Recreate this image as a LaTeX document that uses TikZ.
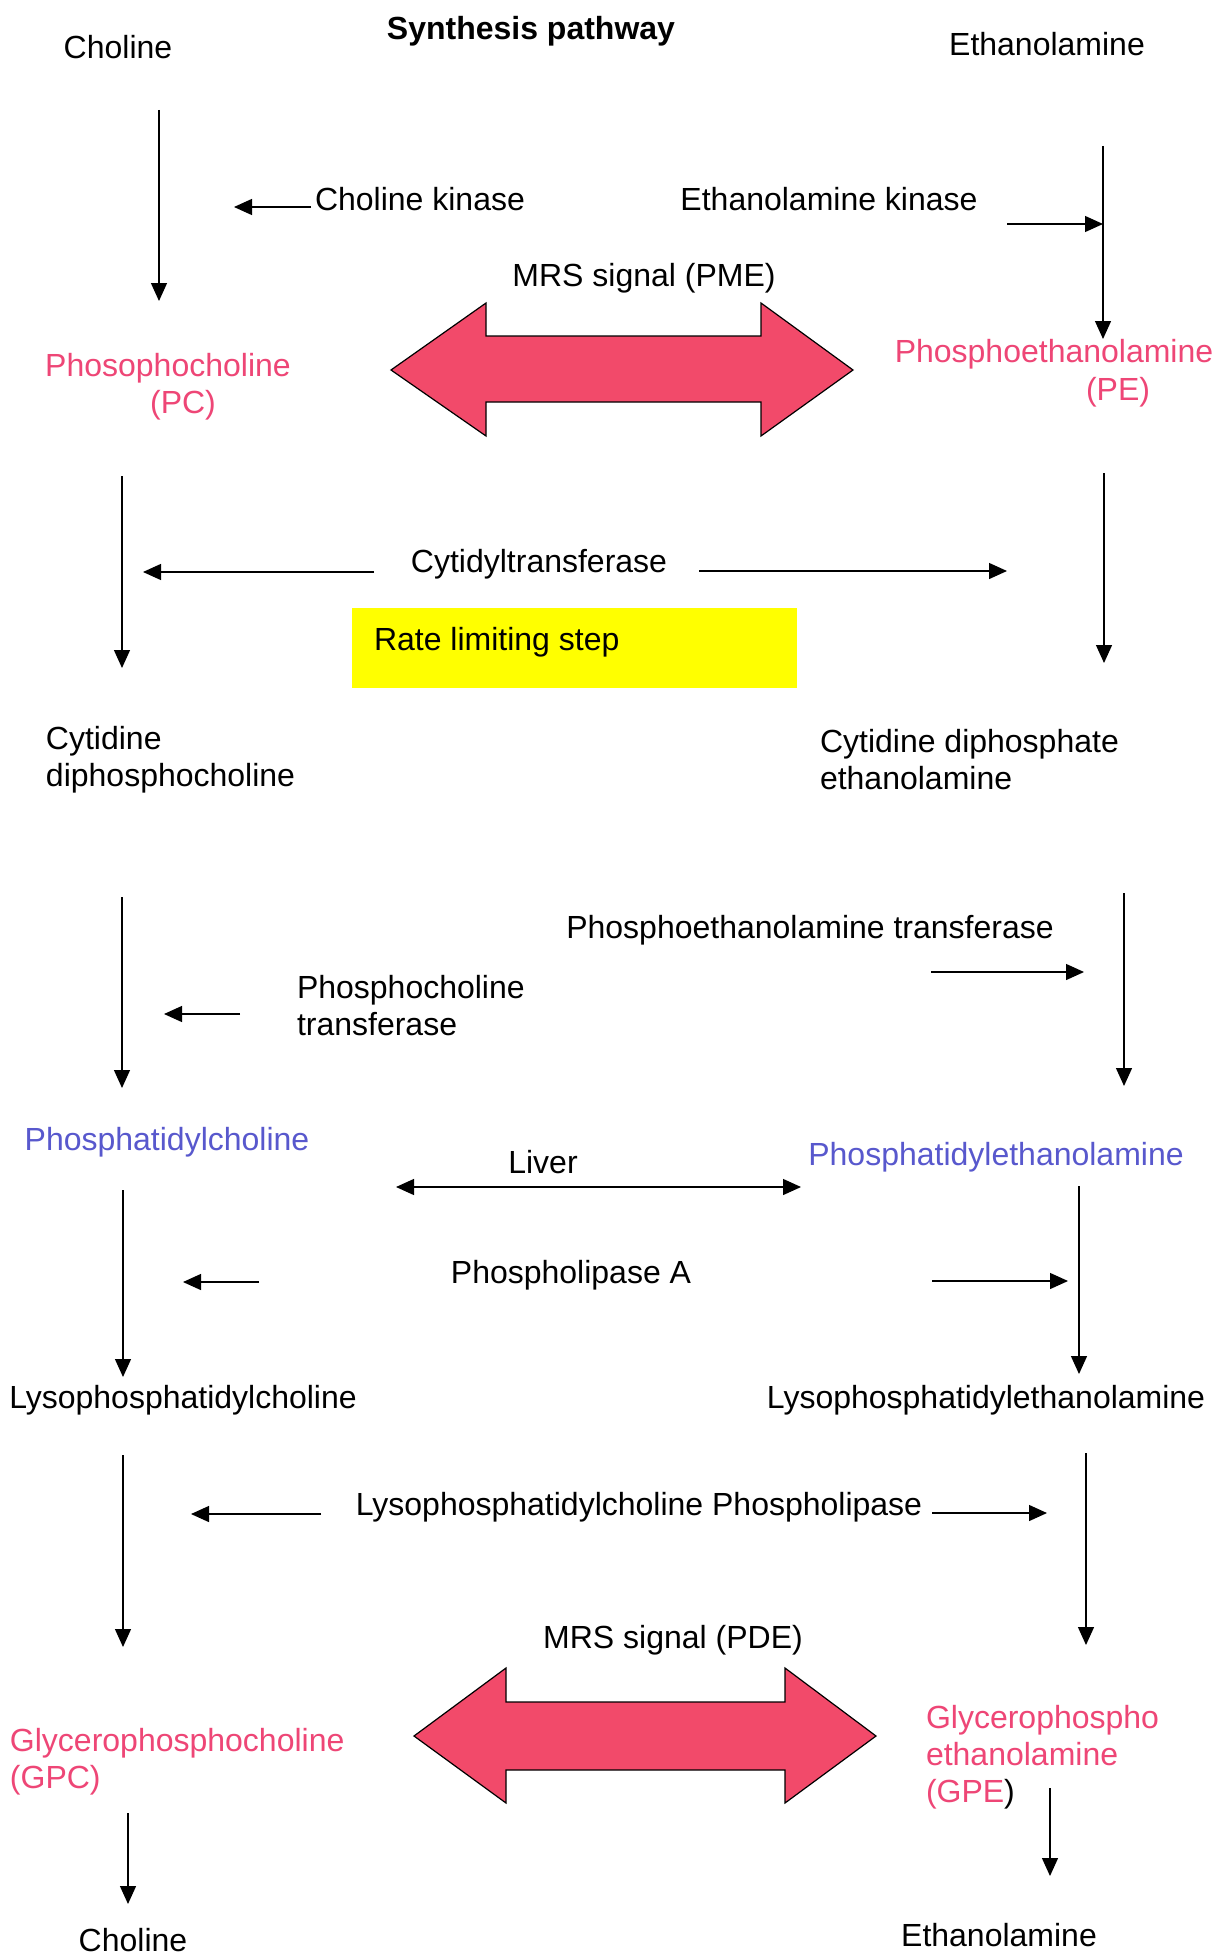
\documentclass[tikz,border=0pt]{standalone}
\usepackage{fontspec}
\setmainfont{Liberation Sans}
\usetikzlibrary{arrows.meta}
\definecolor{pinktxt}{RGB}{238,70,118}
\definecolor{pinkfill}{RGB}{242,74,106}
\definecolor{bluetxt}{RGB}{88,88,205}
\definecolor{yellowbox}{RGB}{255,255,0}
\tikzset{
  lbl/.style={font=\fontsize{16}{18.5}\selectfont, inner sep=0pt, outer sep=0pt, yshift=-1.5pt},
  mlbl/.style={lbl, align=left, anchor=north west},
  conn/.style={line width=0.65pt, -{Triangle[width=8pt,length=9pt]}},
  dconn/.style={line width=0.65pt, {Triangle[width=8pt,length=9pt]}-{Triangle[width=8pt,length=9pt]}},
  bigarrow/.style={fill=pinkfill, draw=black, line width=0.6pt, line join=miter},
}
\begin{document}
\begin{tikzpicture}[x=0.5pt,y=-0.5pt]
\useasboundingbox (0,0) rectangle (1226,1953);
\fill[white] (0,0) rectangle (1226,1953);

% ---- text nodes ----
\node[lbl, font=\fontsize{16}{18.5}\selectfont\bfseries] (title) at (531,28) {Synthesis pathway};
\node[lbl] (chol) at (118,44) {Choline};
\node[lbl] (eth) at (1047,41) {Ethanolamine};
\node[lbl] (ck) at (420,196) {Choline kinase};
\node[lbl] (ek) at (829,196) {Ethanolamine kinase};
\node[lbl] (pme) at (644,275) {MRS signal (PME)};
\node[lbl, text=pinktxt] (pc) at (168,365) {Phosophocholine};
\node[lbl, text=pinktxt] (pcab) at (183,402) {(PC)};
\node[lbl, text=pinktxt] (pe) at (1054,351) {Phosphoethanolamine};
\node[lbl, text=pinktxt] (peab) at (1118,389) {(PE)};
\node[lbl] (ct) at (539,561) {Cytidyltransferase};
\fill[yellowbox] (352,608) rectangle (797,688);
\node[lbl, anchor=west] (rls) at (374,639) {Rate limiting step};
\node[mlbl] (cdpc) at (46,723) {Cytidine\\diphosphocholine};
\node[mlbl] (cdpe) at (820,726) {Cytidine diphosphate\\ethanolamine};
\node[lbl] (pet) at (810,927) {Phosphoethanolamine transferase};
\node[mlbl] (pct) at (297,972) {Phosphocholine\\transferase};
\node[lbl, text=bluetxt] (ptc) at (167,1139) {Phosphatidylcholine};
\node[lbl, text=bluetxt] (pte) at (996,1154) {Phosphatidylethanolamine};
\node[lbl] (liver) at (543,1159) {Liver};
\node[lbl] (pla) at (571,1272) {Phospholipase A};
\node[lbl] (lpc) at (183,1397) {Lysophosphatidylcholine};
\node[lbl] (lpe) at (986,1397) {Lysophosphatidylethanolamine};
\node[lbl] (lpcp) at (639,1504) {Lysophosphatidylcholine Phospholipase};
\node[lbl] (pde) at (673,1637) {MRS signal (PDE)};
\node[mlbl, text=pinktxt] (gpc) at (10,1725) {Glycerophosphocholine\\(GPC)};
\node[mlbl, text=pinktxt] (gpe) at (926,1702) {Glycerophospho\\ethanolamine\\(GPE\textcolor{black}{)}};
\node[lbl, yshift=1.5pt] (chol2) at (133,1940) {Choline};
\node[lbl] (eth2) at (999,1932) {Ethanolamine};

% ---- big double arrows ----
\path[bigarrow] (391,370) -- (486,303) -- (486,336) -- (761,336) -- (761,303)
  -- (853,370) -- (761,436) -- (761,402) -- (486,402) -- (486,436) -- cycle;
\path[bigarrow] (414,1736) -- (506,1668) -- (506,1702) -- (785,1702) -- (785,1668)
  -- (876,1736) -- (785,1803) -- (785,1770) -- (506,1770) -- (506,1803) -- cycle;

% ---- connector end points ----
\coordinate (a1s) at (159,110);  \coordinate (a1e) at (159,301);
\coordinate (k1s) at (311,207);  \coordinate (k1e) at (234,207);
\coordinate (a2s) at (1103,146); \coordinate (a2e) at (1103,339);
\coordinate (k2s) at (1007,224); \coordinate (k2e) at (1103,224);
\coordinate (a3s) at (122,476);  \coordinate (a3e) at (122,668);
\coordinate (a4s) at (1104,473); \coordinate (a4e) at (1104,663);
\coordinate (c1s) at (374,572);  \coordinate (c1e) at (143,572);
\coordinate (c2s) at (699,571);  \coordinate (c2e) at (1007,571);
\coordinate (a5s) at (122,897);  \coordinate (a5e) at (122,1088);
\coordinate (a6s) at (1124,893); \coordinate (a6e) at (1124,1086);
\coordinate (t1s) at (931,972);  \coordinate (t1e) at (1084,972);
\coordinate (t2s) at (240,1014); \coordinate (t2e) at (164,1014);
\coordinate (lvs) at (396,1187); \coordinate (lve) at (801,1187);
\coordinate (a7s) at (123,1190); \coordinate (a7e) at (123,1377);
\coordinate (a8s) at (1079,1186);\coordinate (a8e) at (1079,1374);
\coordinate (p1s) at (259,1282); \coordinate (p1e) at (183,1282);
\coordinate (p2s) at (932,1281); \coordinate (p2e) at (1068,1281);
\coordinate (a9s) at (123,1455); \coordinate (a9e) at (123,1647);
\coordinate (a10s) at (1086,1453); \coordinate (a10e) at (1086,1645);
\coordinate (l1s) at (321,1514); \coordinate (l1e) at (191,1514);
\coordinate (l2s) at (932,1513); \coordinate (l2e) at (1047,1513);
\coordinate (a11s) at (128,1813); \coordinate (a11e) at (128,1904);
\coordinate (a12s) at (1050,1788); \coordinate (a12e) at (1050,1876);

% ---- connectors ----
\foreach \n in {a1,k1,a2,k2,a3,a4,c1,c2,a5,a6,t1,t2,a7,a8,p1,p2,a9,a10,l1,l2,a11,a12}
  \draw[conn] (\n s) -- (\n e);
\draw[dconn] (lvs) -- (lve);
\end{tikzpicture}
\end{document}
